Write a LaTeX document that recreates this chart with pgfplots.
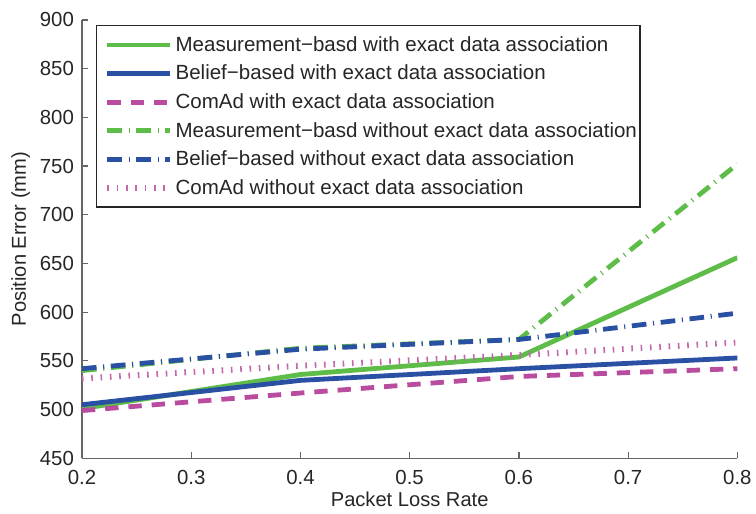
\documentclass[border=0pt]{standalone}
\usepackage{pgfplots}
\pgfplotsset{compat=1.18}
\usepackage{fontspec}
\setmainfont{Liberation Sans}
\definecolor{cgreen}{RGB}{94,188,72}
\definecolor{cblue}{RGB}{42,80,164}
\definecolor{cmag}{RGB}{186,76,160}
\definecolor{ctext}{RGB}{38,38,38}
\begin{document}
\begin{tikzpicture}
\begin{axis}[
  scale only axis,
  width=492pt, height=329pt,
  xmin=0.2, xmax=0.8, ymin=450, ymax=900,
  xtick={0.2,0.3,0.4,0.5,0.6,0.7,0.8},
  xticklabels={0.2,0.3,0.4,0.5,0.6,0.7,0.8},
  ytick={450,500,...,900},
  /pgf/number format/assume math mode=true,
  axis lines=left,
  axis line style={-, black!60, line width=0.9pt},
  every tick/.style={black!60, line width=0.9pt},
  tick align=inside,
  major tick length=4.5pt,
  tick label style={font=\fontsize{15.3}{18}\selectfont, text=ctext},
  xticklabel style={anchor=base, yshift=-19.5pt},
  yticklabel style={xshift=-2.5pt},
  label style={font=\fontsize{15.1}{18}\selectfont, text=ctext},
  xlabel={Packet Loss Rate},
  xlabel style={at={(axis description cs:0.5,-0.109)}, anchor=base},
  ylabel={Position Error (mm)},
  ylabel style={at={(axis description cs:-0.072,0.5)}, anchor=south},
  legend style={at={(axis description cs:0.0213,0.988)}, anchor=north west,
    font=\fontsize{15.4}{18}\selectfont, text=ctext, draw=black!85, line width=0.9pt,
    row sep=4.8pt, inner xsep=0.25pt, inner ysep=6pt, cells={anchor=west}},
  legend image code/.code={\path[draw=none, fill=none] (0pt,0pt) -- (56.4pt,0pt); \draw[#1] (7.9pt,0pt) -- (54.9pt,0pt);},
  legend cell align=left,
]
\addplot[cgreen, line width=3.6pt] coordinates {(0.2,501) (0.4,536) (0.6,554) (0.8,656)};
\addlegendentry{Measurement−basd with exact data association}
\addplot[cblue, line width=3.6pt] coordinates {(0.2,505) (0.4,530) (0.6,542) (0.8,553)};
\addlegendentry{Belief−based with exact data association}
\addplot[cmag, line width=3.6pt, dash pattern=on 10pt off 7.5pt] coordinates {(0.2,499) (0.4,517) (0.6,534) (0.8,542)};
\addlegendentry{ComAd with exact data association}
\addplot[cgreen, line width=3.6pt, dash pattern=on 11pt off 5pt on 0.8pt off 5pt] coordinates {(0.2,540) (0.4,563) (0.6,572) (0.8,752)};
\addlegendentry{Measurement−basd without exact data association}
\addplot[cblue, line width=3.6pt, dash pattern=on 11pt off 5pt on 0.8pt off 5pt] coordinates {(0.2,542) (0.4,562) (0.6,572) (0.8,599)};
\addlegendentry{Belief−based without exact data association}
\addplot[cmag!85, line width=4.5pt, dash pattern=on 1.2pt off 5.8pt] coordinates {(0.2,532) (0.4,545) (0.6,556) (0.8,569)};
\addlegendentry{ComAd without exact data association}
\coordinate (tl) at (rel axis cs:0,1);
\coordinate (br) at (rel axis cs:1,0);
\end{axis}
\path (tl) ++(-61.5pt,15pt);
\path (br) ++(13.5pt,-41.25pt);
\end{tikzpicture}
\end{document}
